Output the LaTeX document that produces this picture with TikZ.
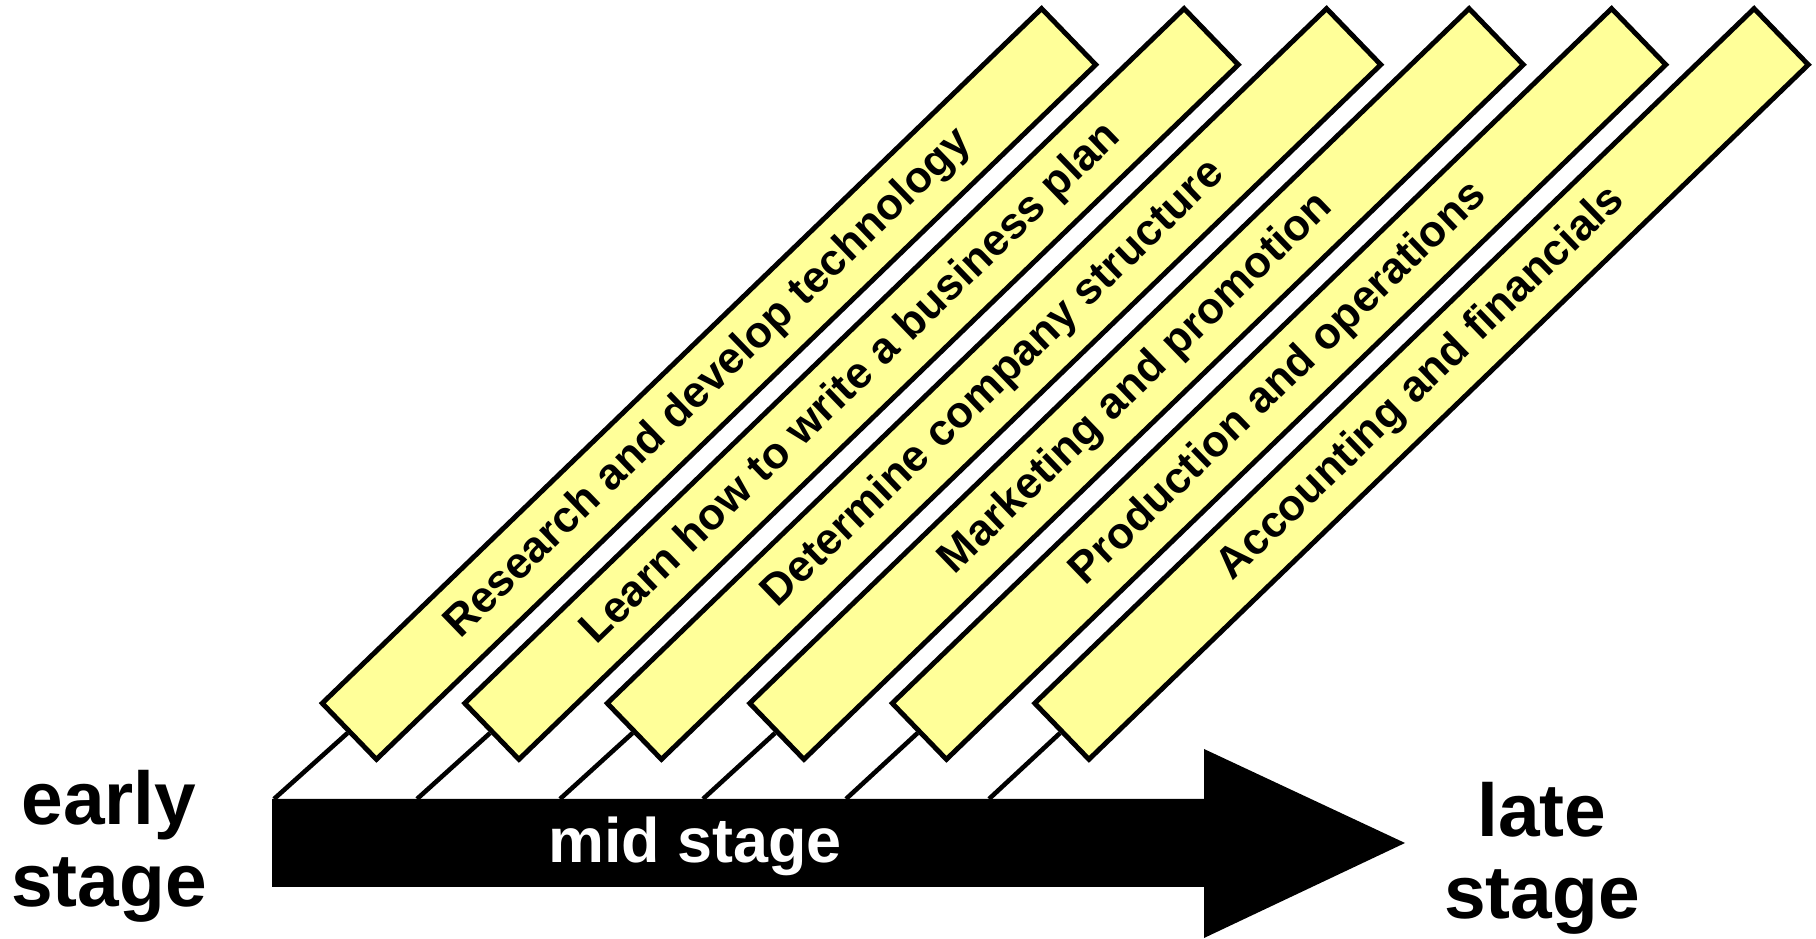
\documentclass[tikz,border=0pt]{standalone}
\usepackage{fontspec}
\setmainfont{Liberation Sans}
\definecolor{barfill}{HTML}{FFFF99}

\begin{document}
\begin{tikzpicture}[
    taskbar/.style={draw=black,line width=1.4pt,fill=barfill,rotate=44,
      minimum width=10cm,minimum height=0.78cm,inner sep=0pt,
      font=\fontsize{12.5}{14}\selectfont\bfseries},
    stagelabel/.style={align=center,inner sep=0pt,
      font=\fontsize{21.3}{23.5}\selectfont\bfseries},
    leg/.style={black,line width=1.3pt}]
  \useasboundingbox (0,0) rectangle (18.16,9.39);
  % the time arrow
  \fill[black] (2.72,0.52) -- (2.72,1.40) -- (12.04,1.40) -- (12.04,1.90)
    -- (14.05,0.96) -- (12.04,0.01) -- (12.04,0.52) -- cycle;
  \node[white,inner sep=0pt,anchor=base,font=\fontsize{17.9}{20}\selectfont\bfseries]
    (mid) at (6.95,0.76) {mid stage};
  \node[stagelabel] (early) at (1.09,0.925) {early\\stage};
  \node[stagelabel] (late) at (15.42,0.805) {late\\stage};
  % tasks, one bar each, hooked onto the arrow
  \foreach \task [count=\i from 0] in {Research and develop technology,
      Learn how to write a business plan,Determine company structure,
      Marketing and promotion,Production and operations,
      Accounting and financials} {
    \coordinate (foot\i) at ({2.74+1.43*\i},1.40);
    \node[taskbar] (task\i) at ({7.09+1.425*\i},5.55) {\task};
    \draw[leg] (foot\i) -- (task\i.west);
  }
\end{tikzpicture}
\end{document}
